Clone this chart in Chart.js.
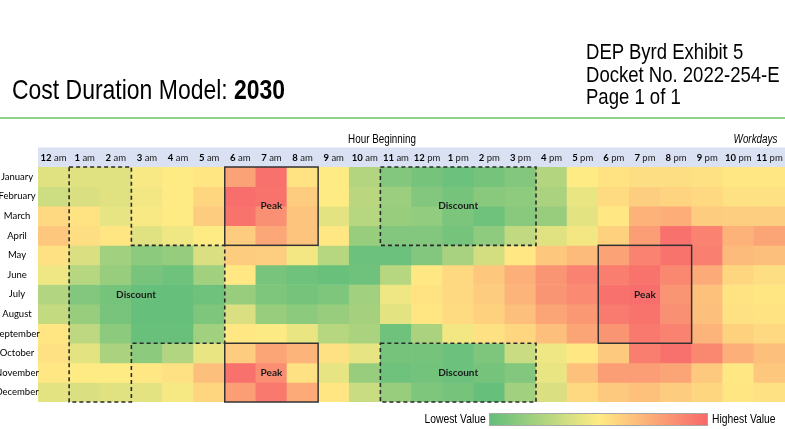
<!DOCTYPE html>
<html>
<head>
<meta charset="utf-8">
<script src="https://cdn.jsdelivr.net/npm/chart.js@4.4.1/dist/chart.umd.min.js"></script>
<style>
  html, body { margin: 0; padding: 0; background: #fff; }
  body { width: 785px; height: 429px; overflow: hidden; position: relative; }
  #c { position: absolute; left: 0; top: 0; }
  .t { position: absolute; white-space: nowrap; color: #000;
       font-family: "Liberation Sans", Arial, sans-serif; }
  .n { transform: scaleX(0.82); transform-origin: left top; }
  #title { left: 12px; top: 74px; font-size: 28px; line-height: 32px; }
  #docket { left: 586px; top: 41px; font-size: 22.6px; line-height: 22.6px; }
  #rule { position: absolute; left: 0; top: 117px; width: 785px; height: 2px; background: #8fd08f; }
  #hb { left: 382px; top: 132px; font-size: 12px; line-height: 14px; transform: translateX(-50%) scaleX(0.82); transform-origin: center top; }
  #wd { right: 8px; top: 132px; font-size: 12px; line-height: 14px; font-style: italic; transform: scaleX(0.82); transform-origin: right top; }
  #lo { right: 299px; top: 412px; font-size: 12.6px; line-height: 15px; transform: scaleX(0.82); transform-origin: right top; }
  #hi { left: 712px; top: 412px; font-size: 12.6px; line-height: 15px; }
  #bar { position: absolute; left: 489px; top: 413px; width: 217px; height: 11px;
         border: 1px solid #a8a8a8;
         background: linear-gradient(to right, #63be7b 0%, #ffeb84 50%, #f8696b 100%); }
</style>
</head>
<body>
<canvas id="c" width="785" height="429"></canvas>
<div class="t n" id="title">Cost Duration Model: <b>2030</b></div>
<div class="t n" id="docket">DEP Byrd Exhibit 5<br>Docket No. 2022-254-E<br>Page 1 of 1</div>
<div id="rule"></div>
<div class="t" id="hb">Hour Beginning</div>
<div class="t" id="wd">Workdays</div>
<div class="t" id="lo">Lowest Value</div>
<div id="bar"></div>
<div class="t n" id="hi">Highest Value</div>

<script>
// ---------- data ----------
const months = ['January','February','March','April','May','June','July','August','September','October','November','December'];
const hours = ['12 am','1 am','2 am','3 am','4 am','5 am','6 am','7 am','8 am','9 am','10 am','11 am',
               '12 pm','1 pm','2 pm','3 pm','4 pm','5 pm','6 pm','7 pm','8 pm','9 pm','10 pm','11 pm'];

// relative cost index (0 = lowest value, 100 = highest value)
const january   = [40,40,40,48,50,52,78,97,53,50,26,10, 6, 3, 6,10,26,50,53,55,55,54,51,51];
const february  = [34,38,40,46,50,58,98,96,62,50,28,18,10, 6,12,14,23,43,56,61,59,57,54,54];
const march     = [57,53,42,48,50,62,96,85,65,41,27,17,15, 8, 4,12,17,41,51,72,74,62,61,61];
const april     = [64,55,52,40,45,50,62,76,65,51,17,10,10, 6,14,30,40,46,60,80,97,90,72,77];
const may       = [54,38,20,13,16,38,62,61,46,27, 3, 3,10,22,36,51,64,69,78,90,96,91,69,67];
const june      = [45,27,17, 7, 4,20,51, 7, 4, 2, 4,27,51,57,64,73,83,90,92,96,88,75,58,55];
const july      = [25,10, 6, 1, 1, 4,17, 9, 6, 9,20,45,53,57,62,71,83,87,97,98,83,66,53,52];
const august    = [31,17, 7, 1, 1, 9,38,17,13,17,21,41,52,56,60,67,77,82,93,96,85,67,54,53];
const september = [52,29,13, 2, 2,20,51,49,43,27,23, 4,23,46,54,58,67,77,83,94,90,71,60,57];
const october   = [54,41,23,13,25,43,62,77,71,54,42, 6, 6, 3, 9,33,45,51,63,92,97,88,73,67];
const november  = [51,50,50,51,54,67,97,86,54,42,17, 4, 5, 3, 6,10,43,66,80,80,77,63,51,64];
const december  = [41,38,40,41,47,58,80,94,75,52,33,17, 9, 6, 1,20,38,57,63,66,62,58,52,54];
const values = [january,february,march,april,may,june,july,august,september,october,november,december];

// Rate periods: [firstHour, lastHourExclusive, firstMonth, lastMonthExclusive]
const peakPeriods = [[6,9,0,4],[6,9,9,12],[18,21,4,9]];
const discountPeriods = [[11,16,0,4],[11,16,9,12]];
// Night discount: hours 1-2 all year, plus hours 3-5 in May-September (outline vertices, hour/month units)
const nightDiscount = [[1,0],[3,0],[3,4],[6,4],[6,9],[3,9],[3,12],[1,12]];
const periodLabels = [['Peak',7,2],['Discount',13,2],['Peak',7,10.5],['Discount',13,10.5],['Peak',19,6.5],['Discount',2.65,6.5]];

// ---------- colour scale (Excel green-yellow-red) ----------
const stops = [[99,190,123],[255,235,132],[248,105,107]];
function heat(v){
  const t = Math.max(0, Math.min(100, v)) / 100;
  const a = t <= 0.5 ? stops[0] : stops[1];
  const b = t <= 0.5 ? stops[1] : stops[2];
  const f = t <= 0.5 ? t / 0.5 : (t - 0.5) / 0.5;
  return 'rgb(' + a.map((x, i) => Math.round(x + (b[i] - x) * f)).join(',') + ')';
}

// ---------- decoration plugin ----------
const decor = {
  id: 'decor',
  beforeDatasetsDraw(chart){
    const {ctx, chartArea: ca} = chart;
    ctx.save();
    ctx.fillStyle = '#d9e1f2';
    ctx.fillRect(ca.left, ca.top - 19.5, chart.width - ca.left, 19.5);
    ctx.restore();
  },
  afterDatasetsDraw(chart){
    const {ctx, chartArea: ca} = chart;
    const x = chart.scales.x, y = chart.scales.y;
    const ex = c => x.getPixelForValue(c - 0.5);
    const ey = r => y.getPixelForValue(r);
    ctx.save();

    // hour labels in header band
    ctx.textBaseline = 'middle';
    hours.forEach((h, i) => {
      const [num, suf] = h.split(' ');
      const cx = x.getPixelForValue(i);
      const cy = ca.top - 9.5;
      ctx.font = 'bold 9.5px Lato, "Open Sans", sans-serif';
      const w1 = ctx.measureText(num).width;
      ctx.font = '9.5px Lato, "Open Sans", sans-serif';
      const w2 = ctx.measureText(' ' + suf).width;
      let sx = cx - (w1 + w2) / 2;
      ctx.textAlign = 'left';
      ctx.fillStyle = '#000';
      ctx.font = 'bold 9.5px Lato, "Open Sans", sans-serif';
      ctx.fillText(num, sx, cy);
      ctx.fillStyle = '#1a1a1a';
      ctx.font = '9.5px Lato, "Open Sans", sans-serif';
      ctx.fillText(' ' + suf, sx + w1, cy);
    });

    // month labels
    ctx.textAlign = 'center';
    ctx.fillStyle = '#000';
    ctx.font = '9.5px Lato, "Open Sans", sans-serif';
    months.forEach((m, r) => ctx.fillText(m, ca.left - 21, y.getPixelForValue(r + 0.5)));

    // discount outlines (dashed)
    ctx.strokeStyle = '#2b2b2b';
    ctx.lineWidth = 1.6;
    ctx.setLineDash([4, 3]);
    ctx.beginPath();
    nightDiscount.forEach(([c, r], i) => i ? ctx.lineTo(ex(c), ey(r)) : ctx.moveTo(ex(c), ey(r)));
    ctx.closePath();
    ctx.stroke();
    discountPeriods.forEach(([c0, c1, r0, r1]) => {
      ctx.strokeRect(ex(c0), ey(r0), ex(c1) - ex(c0), ey(r1) - ey(r0));
    });

    // peak outlines (solid)
    ctx.setLineDash([]);
    ctx.strokeStyle = '#333';
    ctx.lineWidth = 1.5;
    peakPeriods.forEach(([c0, c1, r0, r1]) => {
      ctx.strokeRect(ex(c0), ey(r0), ex(c1) - ex(c0), ey(r1) - ey(r0));
    });

    // period labels
    ctx.fillStyle = '#1a1a1a';
    ctx.font = 'bold 10px Lato, "Open Sans", sans-serif';
    ctx.textAlign = 'center';
    periodLabels.forEach(([t, c, r]) => ctx.fillText(t, x.getPixelForValue(c), y.getPixelForValue(r)));
    ctx.restore();
  }
};

// ---------- chart ----------
new Chart(document.getElementById('c'), {
  type: 'bar',
  data: {
    labels: hours,
    datasets: months.map((m, r) => ({
      label: m,
      data: hours.map(() => [r, r + 1]),
      backgroundColor: values[r].map(heat),
      borderWidth: 0,
      barPercentage: 1,
      categoryPercentage: 1,
      grouped: false
    }))
  },
  options: {
    responsive: false,
    animation: false,
    layout: { padding: { left: 38, top: 167, right: 0, bottom: 27 } },
    plugins: { legend: { display: false }, tooltip: { enabled: false }, title: { display: false } },
    scales: {
      x: { type: 'category', display: false, offset: true, grid: { display: false } },
      y: { type: 'linear', display: false, min: 0, max: 12, reverse: true }
    }
  },
  plugins: [decor]
});
</script>
</body>
</html>
